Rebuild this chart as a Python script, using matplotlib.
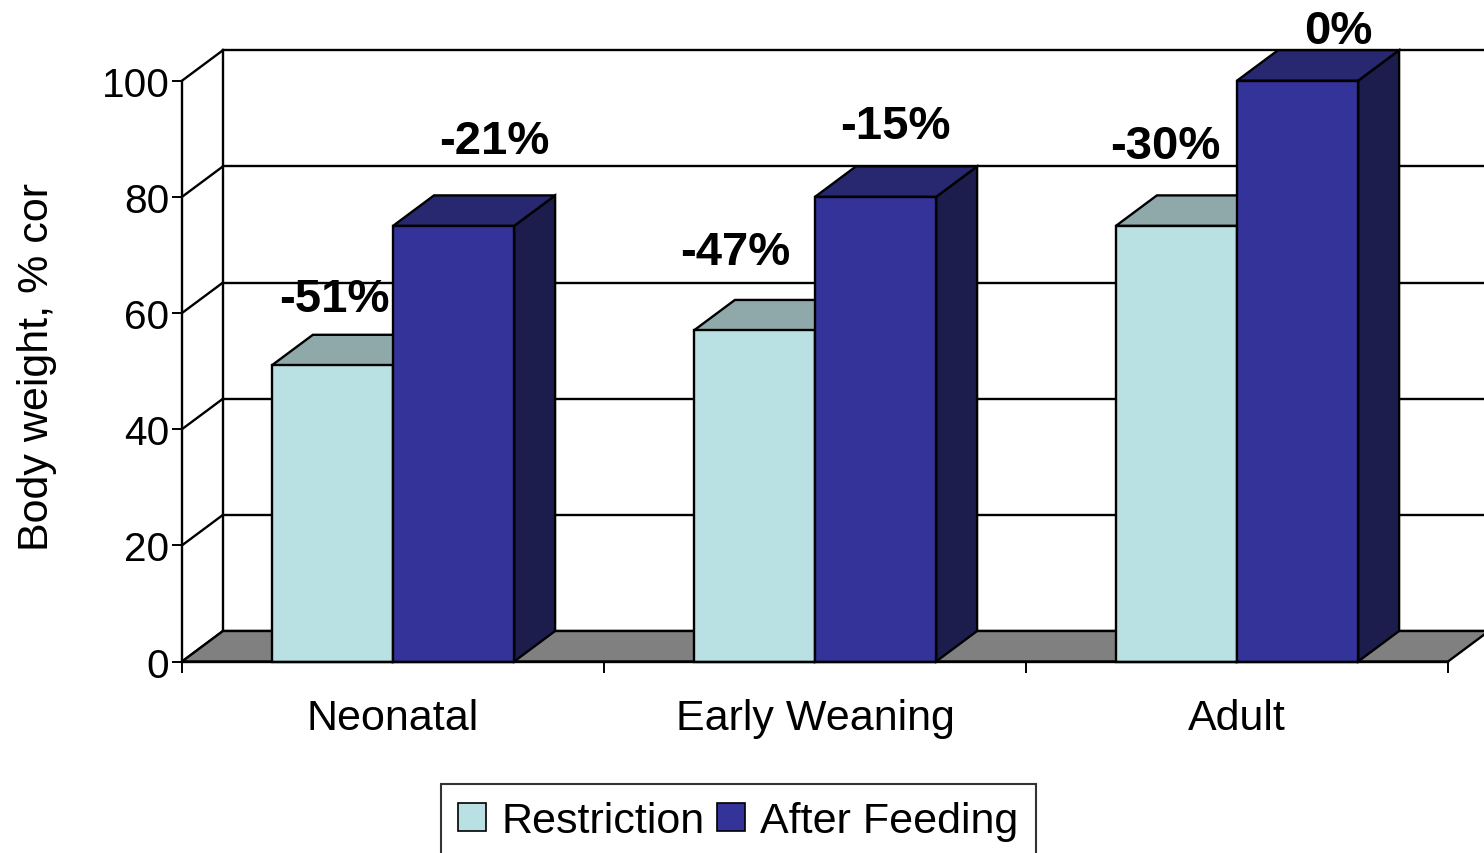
import matplotlib
matplotlib.use('Agg')
import matplotlib.pyplot as plt
from matplotlib.patches import Polygon, Patch
from matplotlib import font_manager

# data
categories = ['Neonatal', 'Early Weaning', 'Adult']
restriction = [51, 57, 75]
after_feeding = [75, 80, 100]
labels_restriction = ['-51%', '-47%', '-30%']
labels_after = ['-21%', '-15%', '0%']
yticks = [0, 20, 40, 60, 80, 100]

# hand placed value labels (data coords), like in the original slide
lab_r_x = [0.36, 1.31, 2.33]
lab_r_y = [62.4, 70.5, 88.8]
lab_a_x = [0.74, 1.69, 2.74]
lab_a_y = [89.6, 92.2, 108.6]

# pick a narrow font if there is one
narrow = 'Liberation Sans Narrow'
try:
    font_manager.findfont(narrow, fallback_to_default=False)
    k = 1.0
except Exception:
    narrow = 'Liberation Sans'
    k = 0.86  # shrink so the widths match the narrow original

W, H = 1484, 854
fig = plt.figure(figsize=(W / 100, H / 100), dpi=100)
left, right, bottom, top = 182, 1448, 662.5, 81.7
ax = fig.add_axes([left / W, 1 - bottom / H, (right - left) / W, (bottom - top) / H])
ax.set_xlim(0, 3)
ax.set_ylim(0, 100)

# depth of the fake 3d in data units (41 px right, 30.5 px up)
DX = 41 * 3 / (right - left)
DY = 30.5 * 100 / (bottom - top)

lw = 1.7
# back wall + side wall grid
ax.plot([DX, DX], [DY, 100 + DY], color='black', lw=lw, clip_on=False, zorder=1)
for v in yticks:
    ax.plot([DX, 3 + DX + 0.2], [v + DY, v + DY], color='black', lw=lw, clip_on=False, zorder=1)
    ax.plot([0, DX], [v, v + DY], color='black', lw=lw, clip_on=False, zorder=1)

# floor
ax.add_patch(Polygon([(0, 0), (3, 0), (3 + DX, DY), (DX, DY)], closed=True,
                     facecolor='#808080', edgecolor='black', lw=lw, clip_on=False, zorder=2))

w = 0.287
series = [
    (restriction, 0.213, '#B9E0E3', '#8FA9AA', '#6F8A8C'),
    (after_feeding, 0.5, '#333399', '#282870', '#1C1C4D'),
]
z = 3
for i in range(len(categories)):
    for vals, off, c_front, c_top, c_side in series:
        h = vals[i]
        x0 = i + off
        side = [(x0 + w, 0), (x0 + w + DX, DY), (x0 + w + DX, h + DY), (x0 + w, h)]
        topf = [(x0, h), (x0 + w, h), (x0 + w + DX, h + DY), (x0 + DX, h + DY)]
        front = [(x0, 0), (x0 + w, 0), (x0 + w, h), (x0, h)]
        for pts, c in [(side, c_side), (topf, c_top), (front, c_front)]:
            ax.add_patch(Polygon(pts, closed=True, facecolor=c, edgecolor='black',
                                 lw=lw, clip_on=False, zorder=z))
        z += 1

for i in range(len(categories)):
    ax.text(lab_r_x[i], lab_r_y[i], labels_restriction[i], ha='center', va='center',
            fontsize=34, fontweight='bold', family='Liberation Sans', clip_on=False, zorder=20)
    ax.text(lab_a_x[i], lab_a_y[i], labels_after[i], ha='center', va='center',
            fontsize=34, fontweight='bold', family='Liberation Sans', clip_on=False, zorder=20)

# axes lines and ticks
for s in ['top', 'right']:
    ax.spines[s].set_visible(False)
for s in ['left', 'bottom']:
    ax.spines[s].set_linewidth(lw)
    ax.spines[s].set_zorder(30)
ax.set_yticks(yticks)
ax.set_yticklabels([str(v) for v in yticks], family=narrow, fontsize=34 * k)
ax.tick_params(axis='y', direction='out', length=7, width=1.4, pad=2)
ax.set_xticks([0, 1, 2, 3])
ax.set_xticklabels([])
ax.tick_params(axis='x', which='major', direction='out', length=8, width=1.4)
ax.set_xticks([0.5, 1.5, 2.5], minor=True)
ax.set_xticklabels(categories, minor=True, family=narrow, fontsize=36 * k)
ax.tick_params(axis='x', which='minor', length=0, pad=26)

fig.text(37 / W, 1 - 367 / H, 'Body weight, % cor', rotation=90, ha='center', va='center',
         family=narrow, fontsize=36 * k)

handles = [Patch(facecolor='#B9E0E3', edgecolor='black', lw=1.2, label='Restriction'),
           Patch(facecolor='#333399', edgecolor='black', lw=1.2, label='After Feeding')]
leg = fig.legend(handles=handles, loc='upper left', bbox_to_anchor=(441 / W, 1 - 785 / H),
                 ncol=2, frameon=True, fancybox=False, prop={'family': narrow, 'size': 36 * k},
                 handlelength=0.65, handleheight=0.65, handletextpad=0.35, columnspacing=0.3,
                 borderpad=0.4, borderaxespad=0)
leg.get_frame().set_edgecolor('black')
leg.get_frame().set_linewidth(1.5)

fig.savefig('out.png', dpi=100)
